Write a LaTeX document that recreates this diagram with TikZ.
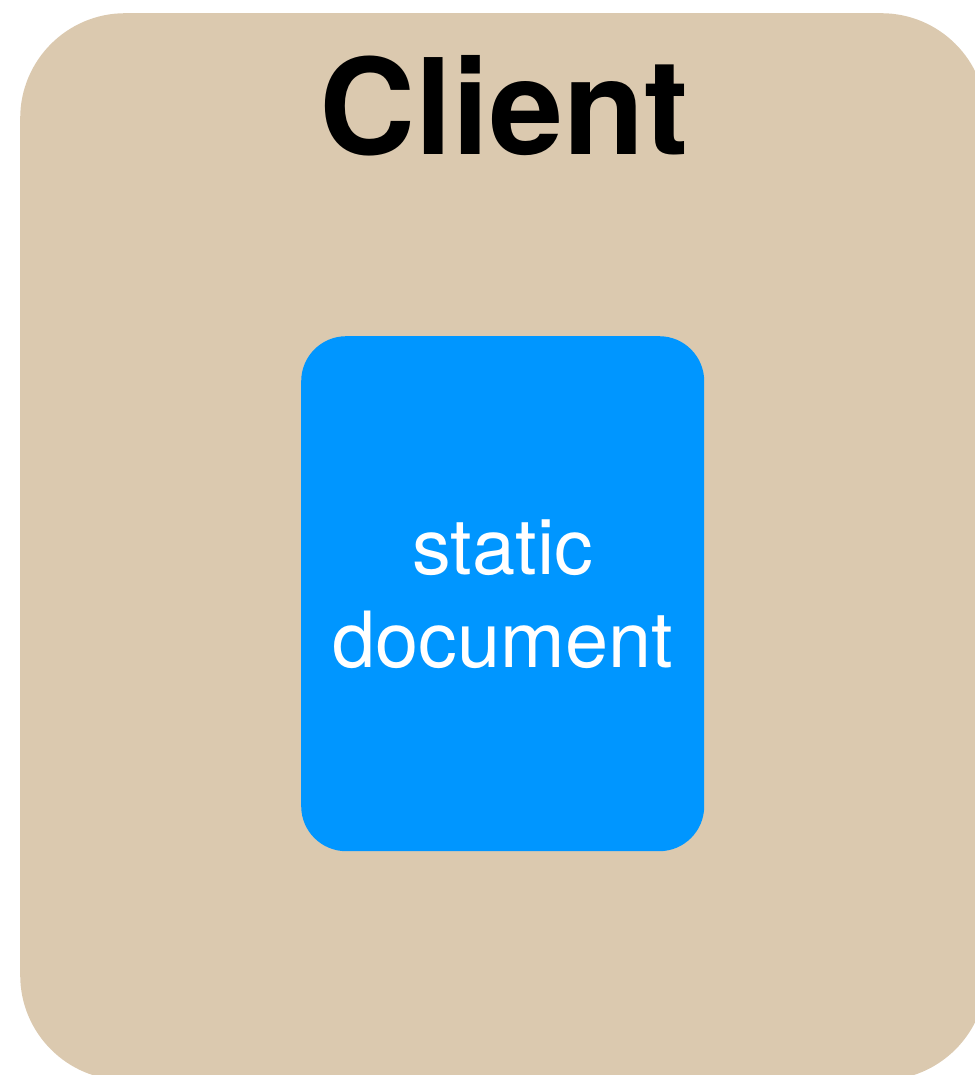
\documentclass[tikz,border=0pt]{standalone}
\usepackage{fontspec}
\setmainfont{TeX Gyre Heros}
\usetikzlibrary{positioning}
\definecolor{clientbg}{HTML}{DBC9AF}
\definecolor{docblue}{HTML}{0096FF}

\begin{document}
\begin{tikzpicture}[
    x=1pt, y=-1pt,
    box/.style={inner sep=0pt, anchor=north west},
    title/.style={font=\fontsize{133}{133}\bfseries\selectfont, anchor=base}
]
\useasboundingbox (0,0) rectangle (974,1075);
\node (client) [box, fill=clientbg, rounded corners=105pt, minimum width=966pt, minimum height=1067pt] at (20,13) {};
\node (clienttitle) [title] at (504,155) {Client};
\node (doc) [box, fill=docblue, rounded corners=45pt, minimum width=403pt, minimum height=515pt,
    text=white, align=center, font=\fontsize{77.5}{93}\selectfont] at (301,336) {static\\document};
\end{tikzpicture}
\end{document}
